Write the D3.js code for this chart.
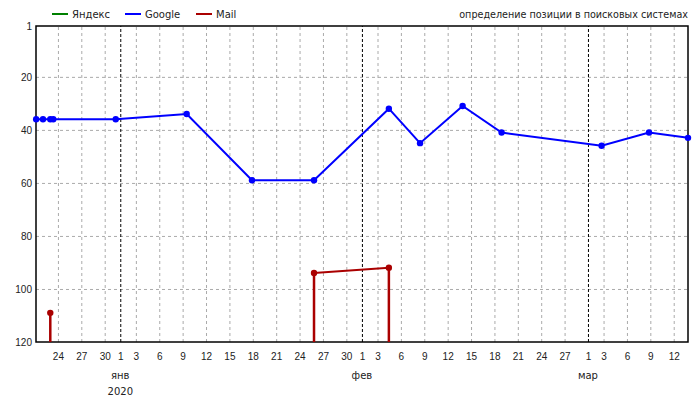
<!DOCTYPE html>
<html>
<head>
  <meta charset='utf-8'>
  <style>
  body { margin: 0; background: #fff; }
  svg { font-family: 'DejaVu Sans', Verdana, sans-serif; font-size: 10px; }
  .axis path { display: none; }
  .axis text { fill: #222; font-size: 10px; }
  .grid line { stroke: #aaa; stroke-dasharray: 3,3; }
  .grid path { display: none; }
  .month line { stroke: #000; stroke-dasharray: 3,2; }
  .frame { fill: none; stroke: #000; stroke-width: 1.5px; }
  .line { fill: none; stroke-width: 2px; }
  </style>
</head>
<body>
<script src='https://d3js.org/d3.v7.min.js'></script>
<script>

var SVG_WIDTH = 700;
var SVG_HEIGHT = 400;

// measurement dates (local time)
var dates = [
  new Date(2019, 11, 21, 5, 0),
  new Date(2019, 11, 22, 2, 0),
  new Date(2019, 11, 23, 0, 30),
  new Date(2019, 11, 23, 9, 40),
  new Date(2019, 11, 31, 10, 0),
  new Date(2020, 0, 9, 12, 30),
  new Date(2020, 0, 17, 21, 30),
  new Date(2020, 0, 25, 20, 30),
  new Date(2020, 1, 4, 11, 0),
  new Date(2020, 1, 8, 11, 0),
  new Date(2020, 1, 13, 22, 0),
  new Date(2020, 1, 18, 22, 0),
  new Date(2020, 2, 2, 18, 0),
  new Date(2020, 2, 8, 20, 0),
  new Date(2020, 2, 13, 20, 0)
];

var yandex = [null, null, null, null, null, null, null, null, null, null, null, null, null, null, null];
var google = [36, 36, 36, 36, 36, 34, 59, 59, 32, 45, 31, 41, 46, 41, 43];
var mail   = [null, null, 109, null, null, null, null, 94, 92, null, null, null, null, null, null];

var seriesNames = ['Яндекс', 'Google', 'Mail'];
var seriesColors = ['#008000', '#0000ff', '#aa0000'];

var yTicks = [1, 20, 40, 60, 80, 100, 120];
var monthNames = ['янв', 'фев', 'мар'];
var monthStarts = [new Date(2020, 0, 1), new Date(2020, 1, 1), new Date(2020, 2, 1)];
var yearLabel = '2020';
var title = 'определение позиции в поисковых системах';

var margin = {top: 26, right: 12, bottom: 58, left: 36},
    width = SVG_WIDTH - margin.left - margin.right,
    height = SVG_HEIGHT - margin.top - margin.bottom;

var svg = d3.select('body').append('svg')
    .attr('width', SVG_WIDTH)
    .attr('height', SVG_HEIGHT);

var g = svg.append('g').attr('transform', 'translate(' + margin.left + ',' + margin.top + ')');

var x = d3.scaleTime()
    .domain([new Date(2019, 11, 21, 4, 30), new Date(2020, 2, 13, 20, 0)])
    .range([0, width]);

var y = d3.scaleLinear()
    .domain([1, 120])
    .range([0.5, height]);

var dayTicks = d3.timeDay.filter(function(d) {
  return d.getDate() % 3 === 0 || d.getDate() === 1;
}).range(x.domain()[0], x.domain()[1]);

var gridTicks = dayTicks.filter(function(d) { return d.getDate() !== 1; });

// grid
g.append('g')
    .attr('class', 'grid')
    .attr('transform', 'translate(0,' + height + ')')
    .call(d3.axisBottom(x).tickValues(gridTicks).tickSize(-height).tickFormat(''));

g.append('g')
    .attr('class', 'grid')
    .call(d3.axisLeft(y).tickValues(yTicks.slice(1, -1)).tickSize(-width).tickFormat(''));

g.append('g')
    .attr('class', 'grid month')
    .attr('transform', 'translate(0,' + height + ')')
    .call(d3.axisBottom(x).tickValues(monthStarts).tickSize(-height).tickFormat(''));

// axes
g.append('g')
    .attr('class', 'axis axis--x')
    .attr('transform', 'translate(0,' + height + ')')
    .call(d3.axisBottom(x).tickValues(dayTicks).tickSize(0).tickPadding(11)
      .tickFormat(d3.timeFormat('%-d')));

g.append('g')
    .attr('class', 'axis axis--y')
    .call(d3.axisLeft(y).tickValues(yTicks).tickSize(0).tickPadding(4));

var months = g.append('g').attr('class', 'axis');
months.selectAll('text.mon')
    .data(monthStarts)
  .enter().append('text')
    .attr('class', 'mon')
    .attr('x', function(d) { return x(d); })
    .attr('y', height + 37)
    .attr('text-anchor', 'middle')
    .text(function(d, i) { return monthNames[i]; });

months.append('text')
    .attr('x', x(monthStarts[0]))
    .attr('y', height + 53)
    .attr('text-anchor', 'middle')
    .text(yearLabel);

g.append('rect')
    .attr('class', 'frame')
    .attr('width', width)
    .attr('height', height);

// series
var seriesData = [yandex, google, mail].map(function(vals, i) {
  return {
    name: seriesNames[i],
    color: seriesColors[i],
    points: vals.map(function(v, j) { return {date: dates[j], v: v}; })
  };
});

var line = d3.line()
    .defined(function(d) { return d.v != null; })
    .x(function(d) { return x(d.date); })
    .y(function(d) { return y(d.v); });

seriesData.forEach(function(s) {
  var pts = s.points;
  g.append('path')
      .datum(pts)
      .attr('class', 'line')
      .attr('stroke', s.color)
      .attr('d', line);

  // drop to the bottom where the site falls out of the top 120
  var drops = pts.filter(function(d, j) {
    if (d.v == null) return false;
    var prev = pts[j - 1], next = pts[j + 1];
    return (prev && prev.v == null) || (next && next.v == null);
  });
  g.selectAll(null)
      .data(drops)
    .enter().append('line')
      .attr('stroke', s.color)
      .attr('stroke-width', 2.5)
      .attr('x1', function(d) { return x(d.date); })
      .attr('x2', function(d) { return x(d.date); })
      .attr('y1', function(d) { return y(d.v); })
      .attr('y2', height);

  g.selectAll(null)
      .data(pts.filter(line.defined()))
    .enter().append('circle')
      .attr('fill', s.color)
      .attr('r', 3.2)
      .attr('cx', function(d) { return x(d.date); })
      .attr('cy', function(d) { return y(d.v); });
});

// legend
var legend = svg.append('g').attr('transform', 'translate(52,14)');
var legendX = [0, 73, 144];
seriesNames.forEach(function(name, i) {
  var item = legend.append('g').attr('transform', 'translate(' + legendX[i] + ',0)');
  item.append('line')
      .attr('x1', 0).attr('x2', 16)
      .attr('stroke', seriesColors[i])
      .attr('stroke-width', 2);
  item.append('text')
      .attr('x', 20)
      .attr('y', 4)
      .attr('fill', '#222')
      .text(name);
});

svg.append('text')
    .attr('x', margin.left + width)
    .attr('y', 18)
    .attr('text-anchor', 'end')
    .attr('fill', '#222')
    .style('font-size', '9.6px')
    .text(title);

</script>
</body>
</html>
